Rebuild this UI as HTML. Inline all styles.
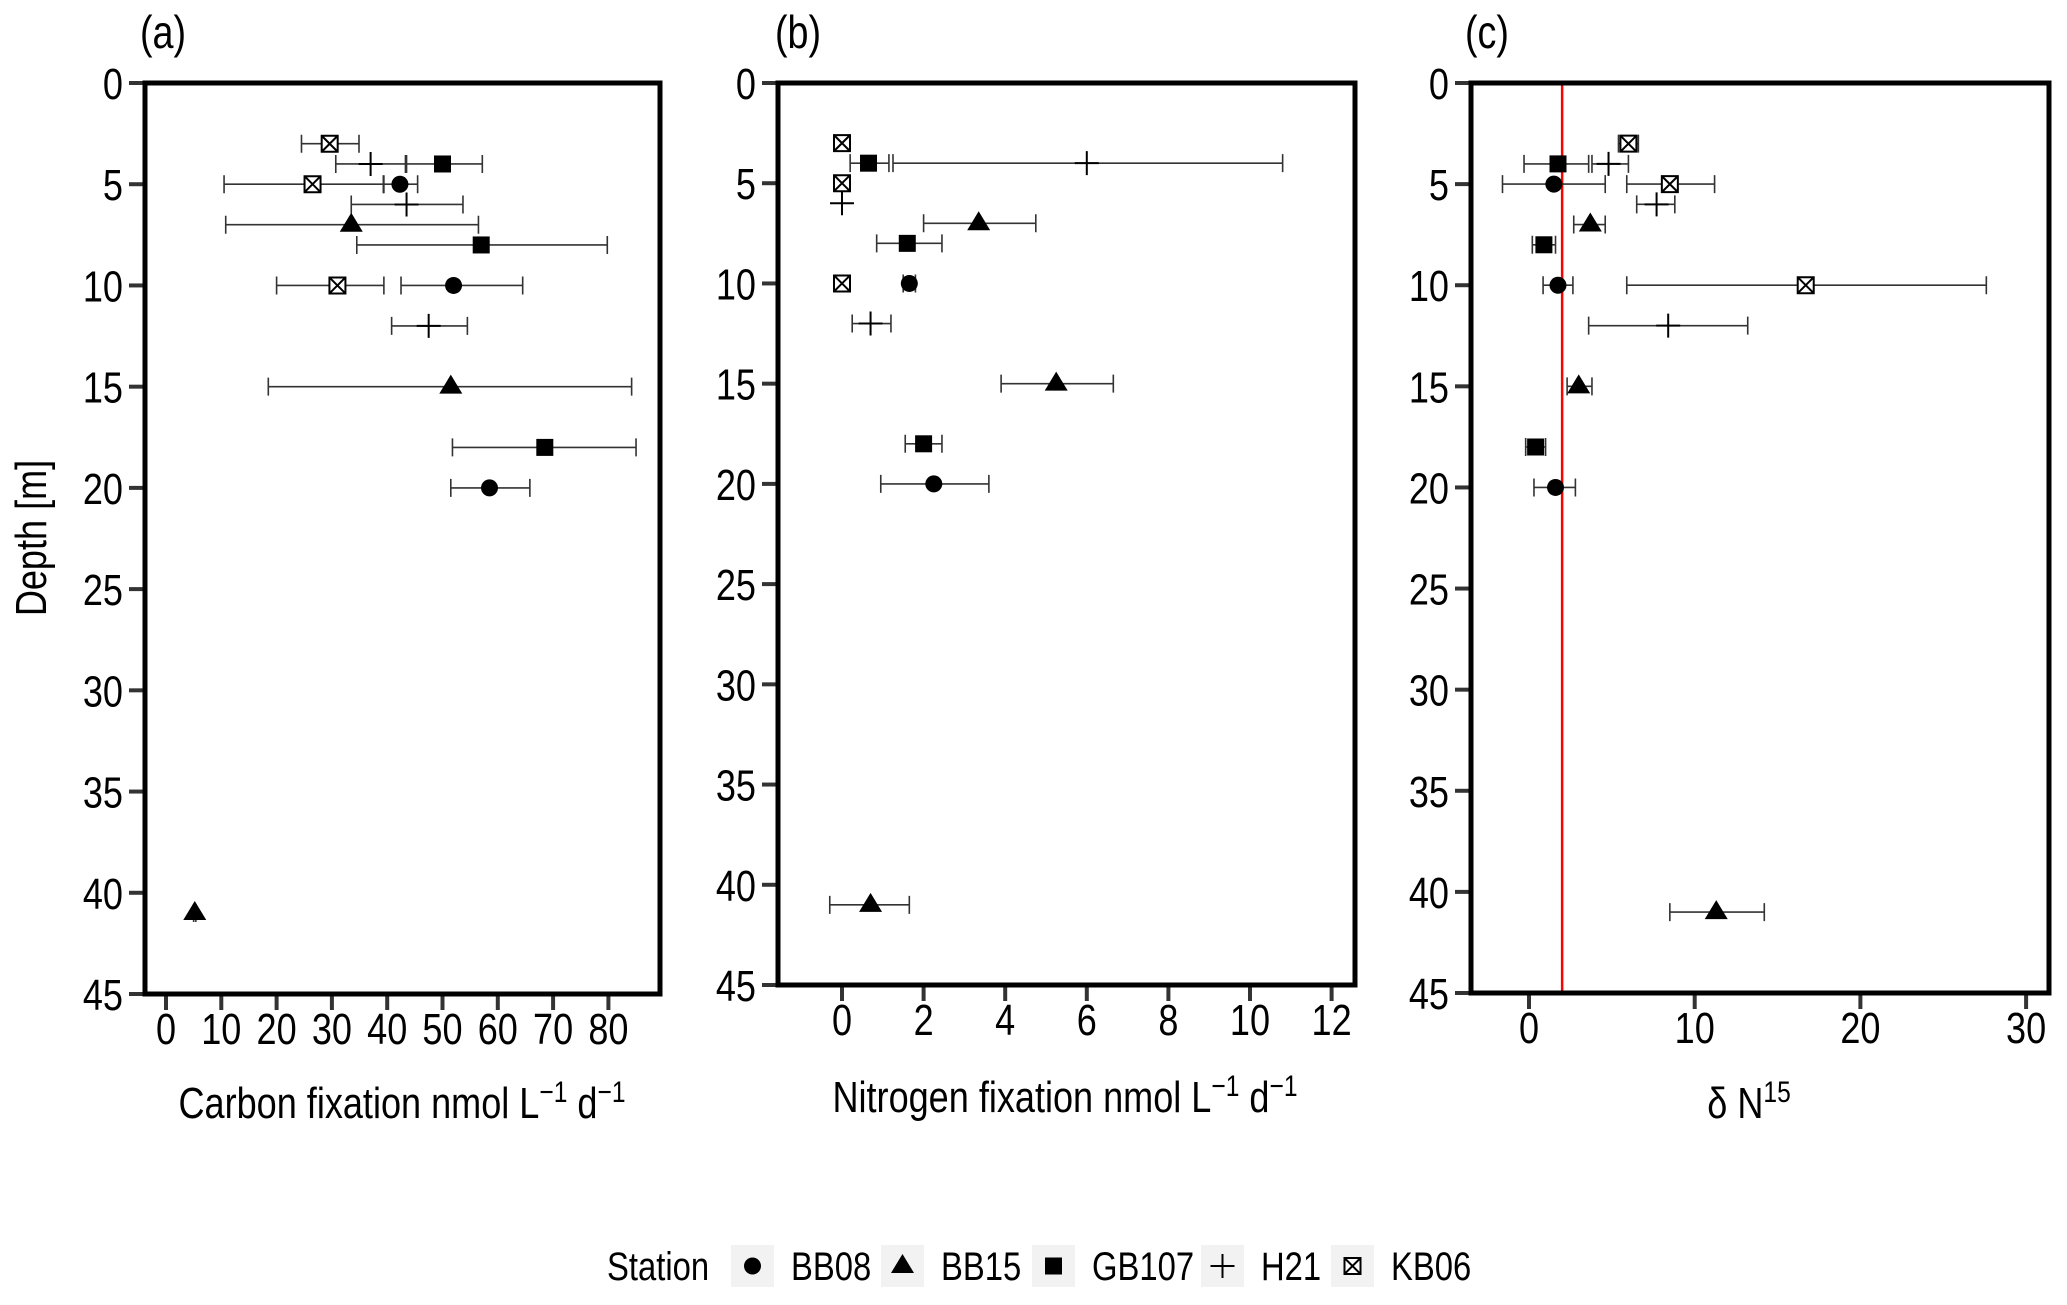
<!DOCTYPE html>
<html><head><meta charset="utf-8"><style>
html,body{margin:0;padding:0;background:#fff;}
svg{display:block;font-family:"Liberation Sans",Arial,sans-serif;}
</style></head><body>
<svg id="fig" width="2067" height="1305" viewBox="0 0 2067 1305" xmlns="http://www.w3.org/2000/svg"></svg>
<script>
// ---------- data ----------
const stations = ["BB08","BB15","GB107","H21","KB06"];
const yTicks = [0,5,10,15,20,25,30,35,40,45];
// Panel a: carbon fixation
const aStation = ["KB06","KB06","KB06","H21","H21","H21","GB107","GB107","GB107","BB08","BB08","BB08","BB15","BB15","BB15"];
const aDepth   = [3,5,10,4,6,12,4,8,18,5,10,20,7,15,41];
const aValue   = [29.6,26.5,31,37,43.5,47.5,50,57,68.5,42.3,52,58.5,33.5,51.5,5.2];
const aLow     = [24.5,10.5,20,30.7,33.5,40.8,43.5,34.5,51.8,39.3,42.5,51.5,10.8,18.5,5.0];
const aHigh    = [34.9,39.4,39.4,43.3,53.7,54.5,57.2,79.8,85,45.5,64.5,65.8,56.5,84.2,5.4];
const aXTicks  = [0,10,20,30,40,50,60,70,80];
// Panel b: nitrogen fixation
const bStation = ["KB06","KB06","KB06","GB107","GB107","GB107","H21","H21","H21","BB15","BB15","BB15","BB08","BB08"];
const bDepth   = [3,5,10,4,8,18,4,6,12,7,15,41,10,20];
const bValue   = [0,0,0,0.65,1.6,2.0,6.0,0,0.7,3.35,5.25,0.7,1.65,2.25];
const bLow     = [0,0,0,0.2,0.85,1.55,1.25,0,0.25,2.0,3.9,-0.3,1.5,0.95];
const bHigh    = [0,0,0,1.15,2.45,2.45,10.8,0,1.2,4.75,6.65,1.65,1.8,3.6];
const bXTicks  = [0,2,4,6,8,10,12];
// Panel c: delta N15
const cStation = ["KB06","KB06","KB06","H21","H21","H21","GB107","GB107","GB107","BB08","BB08","BB08","BB15","BB15","BB15"];
const cDepth   = [3,5,10,4,6,12,4,8,18,5,10,20,7,15,41];
const cValue   = [6.0,8.5,16.7,4.8,7.7,8.4,1.75,0.9,0.4,1.5,1.75,1.6,3.7,3.0,11.3];
const cLow     = [5.4,5.9,5.9,3.8,6.5,3.6,-0.3,0.2,-0.2,-1.6,0.85,0.3,2.7,2.3,8.5];
const cHigh    = [6.6,11.2,27.6,6.0,8.8,13.2,3.6,1.6,1.0,4.6,2.65,2.8,4.6,3.8,14.2];
const cXTicks  = [0,10,20,30];
const cRefLine = 2;

const NS="http://www.w3.org/2000/svg";
const svg=document.getElementById('fig');
function mk(tag,attrs,parent){const e=document.createElementNS(NS,tag);for(const k in attrs)e.setAttribute(k,attrs[k]);(parent||svg).appendChild(e);return e;}
function txt(parent,x,y,html,size,anchor,rot){
  const t=mk('text',{x:0,y:0,'font-size':size,'text-anchor':anchor||'start',fill:'#000',
    transform:`translate(${x},${y})${rot?' rotate('+rot+')':''} scale(0.82,1)`},parent);
  t.innerHTML=html;
  return t;
}

function marker(g,st,x,y){
  let m;
  if(st==="BB08"){m=mk('circle',{cx:x,cy:y,r:8.5,fill:'#000'},g);}
  else if(st==="BB15"){m=mk('polygon',{points:`${x},${y-12} ${x+11.5},${y+7} ${x-11.5},${y+7}`,fill:'#000'},g);}
  else if(st==="GB107"){m=mk('rect',{x:x-8.5,y:y-8.5,width:17,height:17,fill:'#000'},g);}
  else if(st==="H21"){m=mk('path',{d:`M${x-12},${y}H${x+12}M${x},${y-12}V${y+12}`,stroke:'#000','stroke-width':2,fill:'none'},g);}
  else {m=mk('path',{d:`M${x-8},${y-8}h16v16h-16zM${x-8},${y-8}L${x+8},${y+8}M${x+8},${y-8}L${x-8},${y+8}`,stroke:'#000','stroke-width':2,fill:'#fff'},g);}
  return m;
}

function panel(p){
  const g=mk('g',{});
  
  
  const yS=d=>p.top+(p.bottom-p.top)*d/45;
  const xS=v=>p.x0+v*p.ppu;
  const lab=txt(g,p.labX,48,'('+p.id+')',46,'start');
  
  
  yTicks.forEach(t=>{
    const y=yS(t);
    mk('line',{x1:p.left-16,x2:p.left,y1:y,y2:y,stroke:'#333','stroke-width':4},g);
    const tx=txt(g,p.left-22,y+16,String(t),44,'end');
    
    
  });
  p.xTicks.forEach(t=>{
    const x=xS(t);
    mk('line',{x1:x,x2:x,y1:p.bottom,y2:p.bottom+16,stroke:'#333','stroke-width':4},g);
    const tx=txt(g,x,p.bottom+50,String(t),44,'middle');
    
    
  });
  if(p.ref!==undefined){
    const rl=mk('line',{x1:xS(p.ref),x2:xS(p.ref),y1:p.top,y2:p.bottom,stroke:'#ff0000','stroke-width':2.5},g);
    
    
  }
  for(let i=0;i<p.st.length;i++){
    const y=yS(p.dep[i]);
    const eg=mk('g',{},g);
    
    
    if(p.hi[i]-p.lo[i]>0){
      const x1=xS(p.lo[i]),x2=xS(p.hi[i]);
      mk('path',{d:`M${x1},${y}H${x2}M${x1},${y-9}V${y+9}M${x2},${y-9}V${y+9}`,stroke:'#333','stroke-width':1.6,fill:'none'},eg);
    }
    marker(eg,p.st[i],xS(p.val[i]),y);
  }
  const box=mk('rect',{x:p.left,y:p.top,width:p.right-p.left,height:p.bottom-p.top,fill:'none',stroke:'#000','stroke-width':5},g);
  
  
  const t=txt(g,p.titleX,p.titleY,p.title,44,'middle');
  
  
}

const sup=s=>`<tspan dy="-16" font-size="30">${s}</tspan>`;
panel({id:'a',left:145,right:660,top:83,bottom:994,x0:166,ppu:5.53,labX:140,xTicks:aXTicks,
  st:aStation,dep:aDepth,val:aValue,lo:aLow,hi:aHigh,titleX:402,titleY:1118,
  title:'Carbon fixation nmol L'+sup('−1')+'<tspan dy="16"> d</tspan>'+sup('−1')});
panel({id:'b',left:778,right:1355,top:83,bottom:985,x0:842,ppu:40.8,labX:775,xTicks:bXTicks,
  st:bStation,dep:bDepth,val:bValue,lo:bLow,hi:bHigh,titleX:1065,titleY:1112,
  title:'Nitrogen fixation nmol L'+sup('−1')+'<tspan dy="16"> d</tspan>'+sup('−1')});
panel({id:'c',left:1471,right:2049,top:83,bottom:993,x0:1529,ppu:16.57,labX:1465,xTicks:cXTicks,ref:cRefLine,
  st:cStation,dep:cDepth,val:cValue,lo:cLow,hi:cHigh,titleX:1749,titleY:1118,
  title:'δ N'+sup('15')});

const yt=txt(svg,46,538,'Depth [m]',44,'middle',-90);



// legend
const lg=mk('g',{});


txt(lg,607,1280,'Station',40,'start');
const keyX=[731,881,1032,1201,1331];
stations.forEach((s,i)=>{
  const e=mk('g',{},lg);
  
  
  mk('rect',{x:keyX[i],y:1245,width:43,height:42,fill:'#f2f2f2'},e);
  marker(e,s,keyX[i]+21.5,1266);
  txt(e,keyX[i]+60,1280,s,40,'start');
});
</script>
</body></html>
